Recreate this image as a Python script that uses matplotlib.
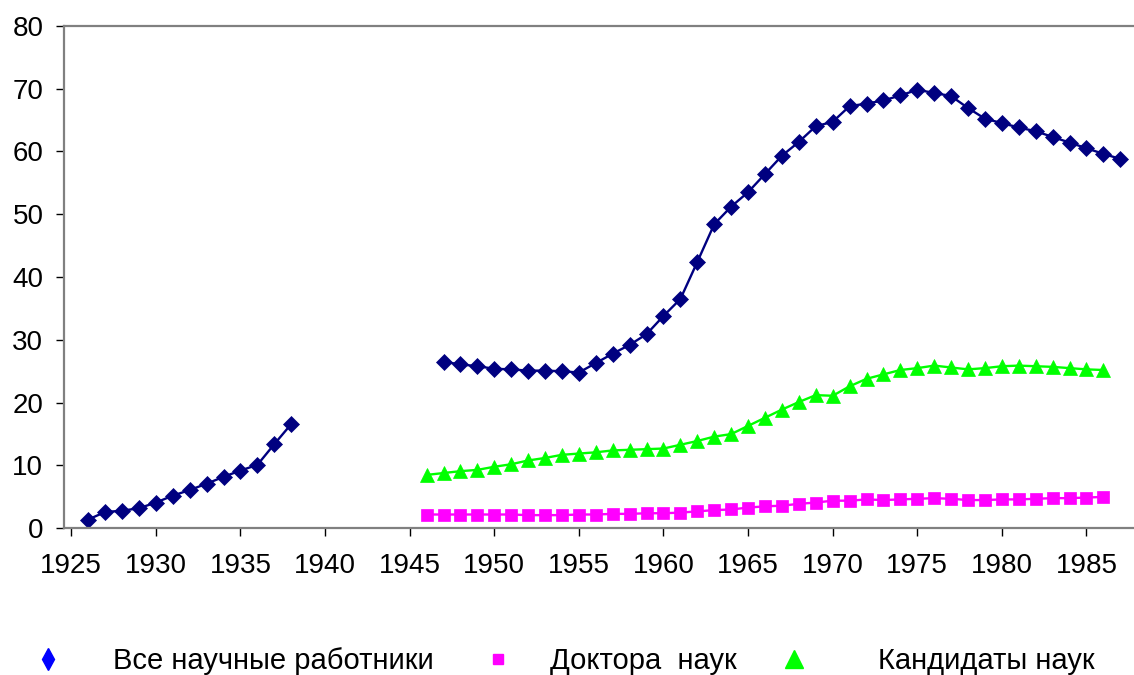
import matplotlib.pyplot as plt
from matplotlib.lines import Line2D

plt.rcParams['font.family'] = ['Liberation Sans', 'DejaVu Sans']

# -------------------------------
# Data (thousands of people)
# -------------------------------
years_prewar = list(range(1926, 1939))
all_prewar = [1.4, 2.6, 2.8, 3.2, 4.1, 5.2, 6.1, 7.1, 8.2, 9.2, 10.1, 13.4, 16.6]

years_all = list(range(1947, 1988))
all_postwar = [26.5, 26.1, 25.8, 25.4, 25.3, 25.1, 25.1, 25.0, 24.8, 26.3,
               27.8, 29.2, 30.9, 33.8, 36.5, 42.4, 48.4, 51.2, 53.5, 56.4,
               59.3, 61.5, 64.0, 64.7, 67.2, 67.6, 68.1, 68.9, 69.8, 69.3,
               68.8, 66.9, 65.2, 64.5, 63.8, 63.2, 62.3, 61.4, 60.5, 59.6,
               58.8]

years_deg = list(range(1946, 1987))
doctors = [2.2, 2.2, 2.2, 2.2, 2.2, 2.2, 2.1, 2.1, 2.1, 2.2,
           2.2, 2.3, 2.3, 2.4, 2.4, 2.5, 2.7, 2.9, 3.0, 3.3,
           3.5, 3.6, 3.9, 4.1, 4.4, 4.4, 4.6, 4.5, 4.6, 4.7,
           4.8, 4.7, 4.5, 4.5, 4.6, 4.6, 4.7, 4.8, 4.8, 4.9,
           5.0]
candidates = [8.5, 8.8, 9.1, 9.3, 9.8, 10.2, 10.8, 11.2, 11.7, 11.9,
              12.1, 12.4, 12.5, 12.6, 12.7, 13.3, 13.9, 14.6, 15.0, 16.3,
              17.6, 18.9, 20.1, 21.2, 21.1, 22.6, 23.8, 24.5, 25.2, 25.5,
              25.9, 25.6, 25.3, 25.5, 25.8, 25.9, 25.8, 25.7, 25.5, 25.3,
              25.2]

labels = ["Все научные работники", "Доктора  наук", "Кандидаты наук"]
x_ticks = list(range(1925, 1990, 5))
y_ticks = list(range(0, 90, 10))

# -------------------------------
# Plot
# -------------------------------
fig = plt.figure(figsize=(11.34, 6.75), dpi=100)
ax = fig.add_axes([0.056, 0.2173, 0.944, 0.7446])

navy = "#000080"
ax.plot(years_prewar, all_prewar, color=navy, lw=1.7, marker="D", ms=8,
        mec=navy, mew=0.5, clip_on=False)
ax.plot(years_all, all_postwar, color=navy, lw=1.7, marker="D", ms=8,
        mec=navy, mew=0.5, clip_on=False)
ax.plot(years_deg, doctors, color="#FF00FF", lw=1.7, marker="s", ms=9,
        mec="#FF00FF", mew=0.5)
ax.plot(years_deg, candidates, color="#00FF00", lw=1.7, marker="^", ms=9.5,
        mec="#00FF00", mew=0.5)

ax.set_xlim(1924.54, 1987.81)
ax.set_ylim(0, 80)
ax.set_xticks(x_ticks)
ax.set_yticks(y_ticks)
ax.tick_params(axis="both", labelsize=20, direction="out", length=6,
               width=1, color="black")
ax.tick_params(axis="x", pad=11.5)
ax.tick_params(axis="y", pad=8.5)

for side in ["left", "bottom", "top"]:
    ax.spines[side].set_color("#808080")
    ax.spines[side].set_linewidth(1.6)
ax.spines["right"].set_visible(False)

# -------------------------------
# Legend (three entries placed below the axes)
# -------------------------------
handles = [
    Line2D([], [], color="#0000FF", marker="d", ms=11, linestyle="none"),
    Line2D([], [], color="#FF00FF", marker="s", ms=7, linestyle="none"),
    Line2D([], [], color="#00FF00", marker="^", ms=13, linestyle="none"),
]
anchors_x = [33.1 / 1134, 483.1 / 1134, 779.1 / 1134]
pads = [1.75, 1.3, 2.4]
for h, lab, ax_x, pad in zip(handles, labels, anchors_x, pads):
    fig.legend(handles=[h], labels=[lab], loc="center left",
               bbox_to_anchor=(ax_x, 0.021), frameon=False, fontsize=21,
               handlelength=1, handletextpad=pad, borderpad=0,
               borderaxespad=0)

fig.savefig("out.png", dpi=100)
